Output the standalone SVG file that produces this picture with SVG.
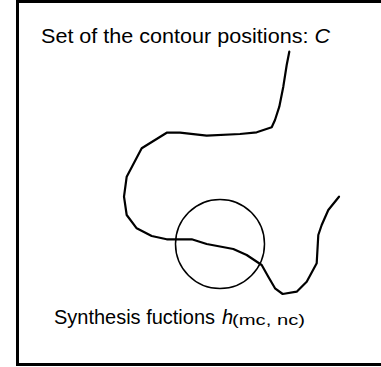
<svg xmlns="http://www.w3.org/2000/svg" width="381" height="367" viewBox="0 0 381 367">
<style>
.t{font-family:"Liberation Sans",Arial,sans-serif;font-size:20px;fill:#000}
.s{font-family:"Liberation Sans",Arial,sans-serif;font-size:15px;fill:#000}
.ln{fill:none;stroke:#000;stroke-linejoin:round;stroke-linecap:round}
</style>
<rect width="381" height="367" fill="#fff"/>
<rect id="frame" x="17.5" y="1.5" width="372" height="363" fill="none" stroke="#000" stroke-width="3"/>
<g id="label-top"><text class="t" x="41" y="43" textLength="289" lengthAdjust="spacingAndGlyphs">Set of the contour positions: <tspan font-style="italic">C</tspan></text></g>
<g id="contour"><path class="ln" stroke-width="2.2" d="M289.3,51.7 L286.7,65 L283.3,86.7 L279.3,106.7 L275,120 L271.7,127.3 L256.7,132.3 L240,134 L206.7,135.7 L180,132.7 L166.7,132.7 L141.7,148.3 L126.7,176.7 L124,196.7 L126.7,215 L136.7,228.3 L151.7,236 L166.7,239.3 L191.7,239.3 L206.7,244 L233.3,249 L246.7,255 L261.7,265 L268.3,276.7 L275,288.3 L282.7,294 L296.7,291.7 L306.7,281.7 L316.7,263.3 L318.3,235 L321.7,225 L328.3,210 L339,196.7"/></g>
<g id="circle"><circle class="ln" stroke-width="1.5" cx="220" cy="244" r="44.5"/></g>
<g id="label-bottom"><text class="t" x="54" y="324" textLength="161" lengthAdjust="spacingAndGlyphs">Synthesis fuctions</text><text class="t" x="222" y="324" font-style="italic">h</text><text class="s" x="232" y="325" textLength="73" lengthAdjust="spacingAndGlyphs">(mc, nc)</text></g>
</svg>
